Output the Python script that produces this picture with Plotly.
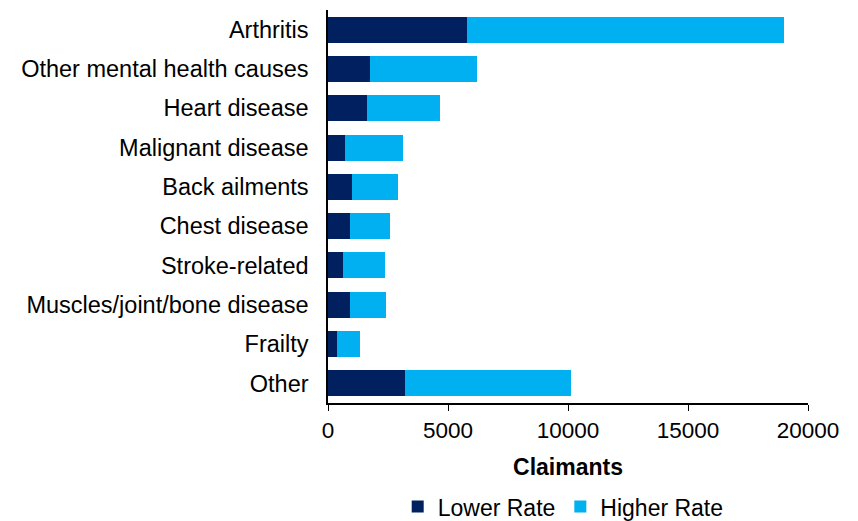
import plotly.graph_objects as go

categories = [
    "Arthritis",
    "Other mental health causes",
    "Heart disease",
    "Malignant disease",
    "Back ailments",
    "Chest disease",
    "Stroke-related",
    "Muscles/joint/bone disease",
    "Frailty",
    "Other",
]
lower_rate = [5800, 1750, 1620, 720, 1010, 930, 640, 930, 360, 3210]
higher_rate = [13190, 4450, 3060, 2390, 1890, 1650, 1740, 1490, 990, 6920]
x_ticks = [0, 5000, 10000, 15000, 20000]

fig = go.Figure()

# Lower rate claimants
fig.add_trace(go.Bar(
    y=categories,
    x=lower_rate,
    name="Lower Rate",
    orientation="h",
    marker=dict(color="#002060", line=dict(width=0)),
))

# Higher rate claimants
fig.add_trace(go.Bar(
    y=categories,
    x=higher_rate,
    name="Higher Rate",
    orientation="h",
    marker=dict(color="#00B0F0", line=dict(width=0)),
))

# page body adds an 8px margin, so the figure is a bit smaller than the window
fig.update_layout(
    barmode="stack",
    bargap=0.34,
    width=850,
    height=513,
    margin=dict(l=320, r=50, t=2, b=118, autoexpand=False),
    paper_bgcolor="white",
    plot_bgcolor="white",
    font=dict(family="Liberation Sans, Arial, sans-serif", size=23.5, color="#000000"),
    showlegend=True,
    legend=dict(
        orientation="h",
        x=0.49,
        xanchor="center",
        xref="paper",
        y=0.028,
        yanchor="middle",
        yref="container",
        font=dict(size=23),
        traceorder="normal",
    ),
    xaxis=dict(
        range=[0, 20000],
        tickvals=x_ticks,
        ticktext=[str(v) for v in x_ticks],
        tickfont=dict(size=22.5),
        showgrid=False,
        zeroline=False,
        showline=True,
        linecolor="#000000",
        linewidth=1.5,
        ticks="outside",
        ticklen=6,
        tickcolor="#000000",
        title=dict(text="<b>Claimants</b>", font=dict(size=23), standoff=17),
    ),
    yaxis=dict(
        categoryorder="array",
        categoryarray=categories[::-1],
        showgrid=False,
        showline=True,
        linecolor="#000000",
        linewidth=1.5,
        ticks="",
        tickfont=dict(size=23.5),
        ticklabelstandoff=13,
    ),
)

fig.write_html("out.html")
